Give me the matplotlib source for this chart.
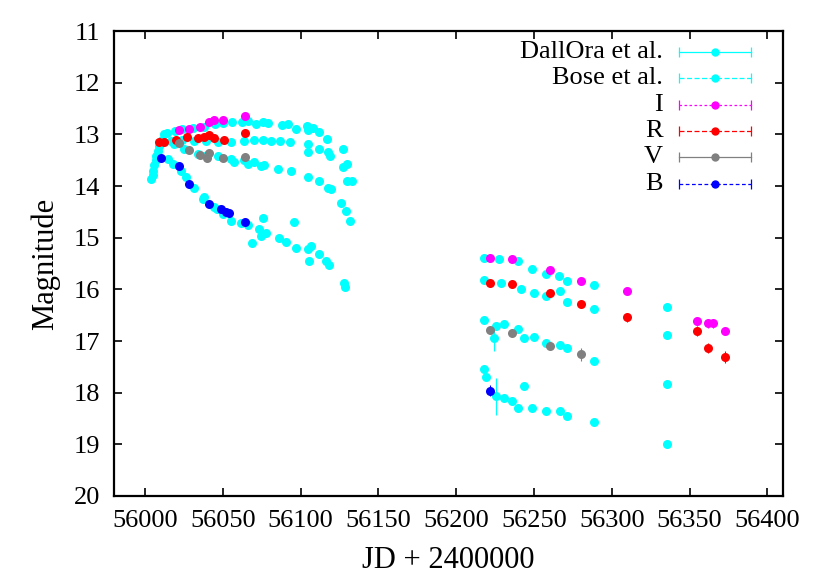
import matplotlib
matplotlib.use('Agg')
import matplotlib.pyplot as plt

plt.rcParams['font.family'] = ['Liberation Serif', 'DejaVu Serif']

# Dall'Ora et al. (cyan)
dallora_jd = [56016.7, 56024, 56031.7, 56039, 56046.7, 56055.2, 56063.8, 56070, 56075.6, 56081,
              56087, 56093, 56104.5, 56104.5, 56112, 56117.3, 56119, 56127, 56130, 56127, 56130, 56133,
              56018.8, 56025, 56033.8, 56040, 56046.7, 56055.2, 56063.8, 56070, 56076.6,
              56217.9, 56227.6, 56239.4, 56249, 56257.5, 56266, 56271.5, 56288.6,
              56217.9, 56228.6, 56241.5, 56250, 56257.5, 56266.7, 56271.5, 56288.6,
              56335.7, 56335.7, 56335.7, 56335.7]
dallora_mag = [13.12, 13.10, 13.12, 13.12, 13.15, 13.15, 13.12, 13.10, 13.10, 13.12,
               13.13, 13.15, 13.18, 13.35, 13.28, 13.35, 13.41, 13.28, 13.57, 13.64, 13.90, 13.90,
               13.18, 13.28, 13.38, 13.40, 13.41, 13.47, 13.49, 13.54, 13.60,
               15.39, 15.42, 15.46, 15.61, 15.71, 15.74, 15.84, 15.92,
               15.81, 15.87, 16.00, 16.07, 16.13, 16.03, 16.24, 16.39,
               16.34, 16.88, 17.83, 19.00]

# Bose et al. (cyan)
bose_jd = [56004, 56005, 56005, 56006, 56007, 56007, 56008, 56009, 56011, 56012,
           56014, 56019, 56024, 56031, 56038, 56045, 56050, 56056, 56062, 56066, 56071, 56076,
           56079, 56088, 56092, 56097, 56104, 56105, 56108, 56112, 56117,
           56057.4, 56066, 56074.5, 56085.2, 56093.8, 56104.5, 56112, 56117.3, 56119.5, 56126, 56129, 56132,
           56014.6, 56017.8, 56023, 56026.3, 56031.7, 56037, 56038, 56044.5, 56046, 56050, 56055, 56061.7,
           56066, 56069, 56073.4, 56074.5, 56075.6, 56077.7, 56086, 56090.6, 56095.9, 56097, 56104.5,
           56106.6, 56105.5, 56112, 56116.3, 56118.4, 56128, 56128.5,
           56217.9, 56225.4, 56230.8, 56239.4, 56224.3, 56243.6, 56250, 56257.5, 56266.7, 56271.5, 56288.6,
           56217.9, 56219, 56225.4, 56230.8, 56236.1, 56239.4, 56243.6, 56249, 56257.5, 56266.7, 56271.5,
           56288.6]
bose_mag = [13.86, 13.78, 13.70, 13.60, 13.50, 13.42, 13.32, 13.22, 13.10, 13.00,
            12.98, 12.94, 12.90, 12.88, 12.85, 12.80, 12.78, 12.76, 12.76, 12.75, 12.79, 12.77,
            12.78, 12.81, 12.80, 12.89, 12.83, 12.92, 12.88, 12.96, 13.09,
            13.54, 13.57, 13.62, 13.67, 13.71, 13.83, 13.90, 14.03, 14.05, 14.32, 14.48, 14.67,
            13.47, 13.57, 13.70, 13.83, 14.03, 14.25, 14.22, 14.41, 14.45, 14.55, 14.67, 14.71,
            14.76, 15.11, 14.83, 14.97, 14.61, 14.90, 15.01, 15.08, 14.69, 15.20, 15.22,
            15.16, 15.46, 15.32, 15.45, 15.53, 15.87, 15.96,
            16.60, 16.71, 16.68, 16.76, 16.94, 16.94, 16.93, 17.04, 17.07, 17.14, 17.38,
            17.54, 17.69, 18.07, 18.11, 18.17, 18.30, 17.88, 18.30, 18.35, 18.35, 18.46,
            18.57]
# two late points carry large uncertainties
bose_big_err = {(56224.3, 16.94): 0.25, (56225.4, 18.07): 0.36}
bose_err = [bose_big_err.get((j, m), 0.02) for j, m in zip(bose_jd, bose_mag)]

# This work
I_jd = [56022, 56028, 56035, 56041, 56044, 56050, 56064, 56222, 56236, 56260, 56280, 56310,
        56355, 56362, 56365, 56373]
I_mag = [12.92, 12.89, 12.85, 12.76, 12.72, 12.72, 12.65, 15.39, 15.42, 15.63, 15.83, 16.03,
         16.62, 16.66, 16.66, 16.80]
I_err = [0.02, 0.02, 0.02, 0.02, 0.02, 0.02, 0.02, 0.03, 0.03, 0.03, 0.03, 0.05,
         0.07, 0.08, 0.08, 0.07]

R_jd = [56009, 56012, 56020, 56027, 56034, 56038, 56041, 56044, 56051, 56064,
        56222, 56236, 56260, 56280, 56310, 56355, 56362, 56373]
R_mag = [13.15, 13.15, 13.10, 13.05, 13.07, 13.05, 13.02, 13.08, 13.10, 12.97,
         15.87, 15.90, 16.07, 16.29, 16.54, 16.80, 17.14, 17.31]
R_err = [0.02] * 10 + [0.04, 0.04, 0.05, 0.06, 0.09, 0.10, 0.10, 0.12]

V_jd = [56022, 56028, 56035, 56040, 56041, 56050, 56064, 56222, 56236, 56260, 56280]
V_mag = [13.17, 13.31, 13.40, 13.45, 13.37, 13.45, 13.44, 16.78, 16.85, 17.10, 17.26]
V_err = [0.02] * 7 + [0.05, 0.05, 0.05, 0.12]

B_jd = [56010, 56022, 56028, 56041, 56049, 56052, 56054, 56064, 56222]
B_mag = [13.45, 13.62, 13.97, 14.34, 14.45, 14.50, 14.53, 14.70, 17.96]
B_err = [0.02] * 8 + [0.10]

series = [
    ('DallOra et al.', dallora_jd, dallora_mag, None, '#00ffff', '-'),
    ('Bose et al.', bose_jd, bose_mag, bose_err, '#00ffff', (0, (4, 2))),
    ('I', I_jd, I_mag, I_err, '#ff00ff', (0, (2, 2))),
    ('R', R_jd, R_mag, R_err, '#ff0000', (0, (4, 2))),
    ('V', V_jd, V_mag, V_err, '#808080', '-'),
    ('B', B_jd, B_mag, B_err, '#0000ff', (0, (3, 2))),
]

fig = plt.figure(figsize=(8.3, 5.81), dpi=100)
ax = fig.add_axes([0.1373, 0.1463, 0.806, 0.8003])

for name, x, y, err, col, ls in series:
    ax.errorbar(x, y, yerr=err, fmt='o', color=col, ms=6.5, mew=0,
                elinewidth=0.8, capsize=3, capthick=0.8)

ax.set_xlim(55980, 56410)
ax.set_ylim(20, 11)
ax.set_xticks(range(56000, 56401, 50))
ax.set_yticks(range(11, 21))
ax.tick_params(direction='in', top=True, right=True, length=6, width=1.2,
               labelsize=19, pad=10)
for s in ax.spines.values():
    s.set_linewidth(1.6)
ax.set_xlabel('JD + 2400000', fontsize=22, labelpad=10)
ax.set_ylabel('Magnitude', fontsize=22, labelpad=10)

# gnuplot-like key
rows = [0.955, 0.898, 0.841, 0.784, 0.728, 0.672]
for (name, x, y, err, col, ls), ry in zip(series, rows):
    ax.text(0.821, ry, name, transform=ax.transAxes, ha='right', va='center', fontsize=19)
    ax.plot([0.844, 0.952], [ry, ry], transform=ax.transAxes, color=col, lw=0.9, ls=ls)
    ax.plot([0.844, 0.952], [ry, ry], transform=ax.transAxes, color=col, lw=0,
            marker='|', ms=7, mew=0.9)
    ax.plot([0.898], [ry], transform=ax.transAxes, color=col, marker='o', ms=6, mew=0)

fig.savefig('out.png', dpi=100)
